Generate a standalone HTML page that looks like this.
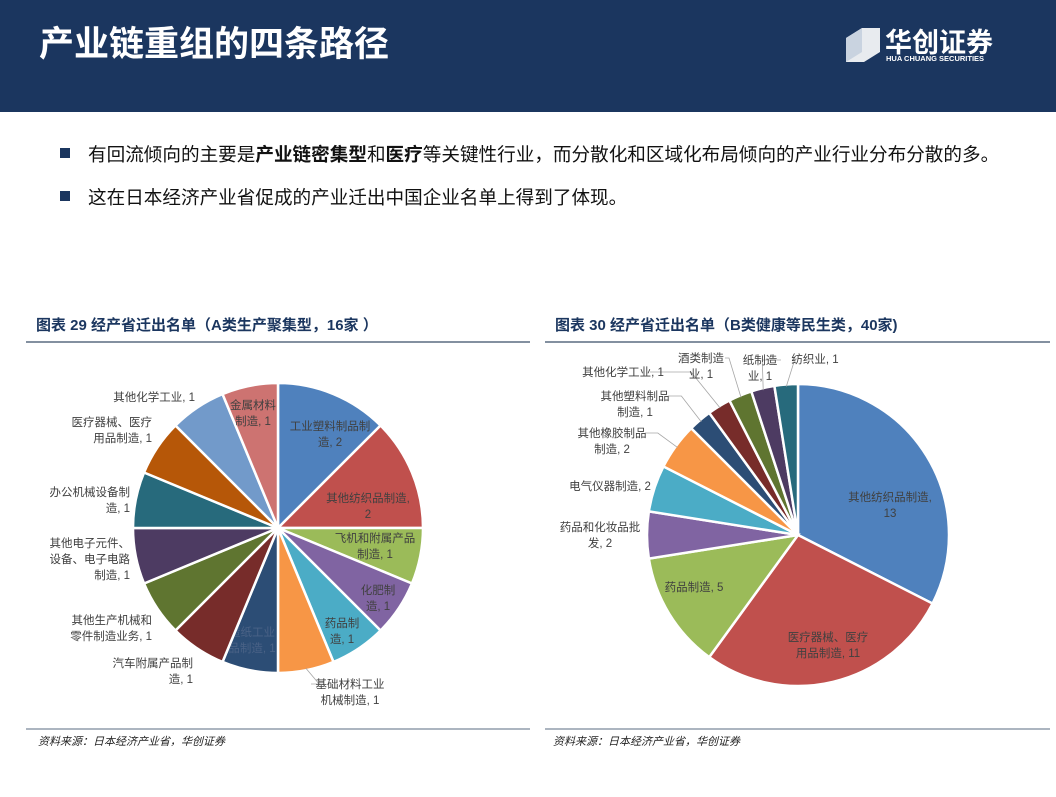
<!DOCTYPE html>
<html><head><meta charset="utf-8"><style>
body{margin:0;width:1056px;height:792px;overflow:hidden;background:#fff;font-family:"Liberation Sans","Noto Sans CJK SC",sans-serif}
svg text{font-family:"Liberation Sans","Noto Sans CJK SC",sans-serif}
</style></head><body>
<svg id="page" width="1056" height="792" viewBox="0 0 1056 792">
<rect x="0" y="0" width="1056" height="112" fill="#1B365F"/>
<text x="39" y="56" font-size="35" font-weight="bold" fill="#fff">产业链重组的四条路径</text>
<g>
<polygon points="846,38 862,28 880,28 880,52 864,62 846,62" fill="#fff" opacity="0.9"/>
<polygon points="846,38 862,28 862,52 846,62" fill="#c9d3e0"/>
<text x="885" y="52" font-size="27" font-weight="bold" fill="#fff">华创证券</text>
<text x="886" y="61" font-size="7.5" font-weight="bold" fill="#fff">HUA CHUANG SECURITIES</text>
</g>
<rect x="60" y="148" width="10" height="10" fill="#1B365F"/>
<text x="88" y="161" font-size="18.6" fill="#111">有回流倾向的主要是<tspan font-weight="bold">产业链密集型</tspan>和<tspan font-weight="bold">医疗</tspan>等关键性行业，而分散化和区域化布局倾向的产业行业分布分散的多。</text>
<rect x="60" y="191" width="10" height="10" fill="#1B365F"/>
<text x="88" y="204" font-size="18.6" fill="#111">这在日本经济产业省促成的产业迁出中国企业名单上得到了体现。</text>
<text x="36" y="330" font-size="15" font-weight="bold" fill="#1B365F">图表 29 经产省迁出名单（A类生产聚集型，16家 ）</text>
<line x1="26" y1="342" x2="530" y2="342" stroke="#5a6b80" stroke-width="1.5"/>
<text x="555" y="330" font-size="15" font-weight="bold" fill="#1B365F">图表 30 经产省迁出名单（B类健康等民生类，40家)</text>
<line x1="545" y1="342" x2="1050" y2="342" stroke="#5a6b80" stroke-width="1.5"/>
<line x1="26" y1="729" x2="530" y2="729" stroke="#5a6b80" stroke-width="1"/>
<line x1="545" y1="729" x2="1050" y2="729" stroke="#5a6b80" stroke-width="1"/>
<text x="38" y="745" font-size="11" font-style="italic" fill="#222">资料来源：日本经济产业省，华创证券</text>
<text x="553" y="745" font-size="11" font-style="italic" fill="#222">资料来源：日本经济产业省，华创证券</text>
<g id="pieA"></g>
<g id="pieB"></g>
</svg>
<script>
const catsA=["工业塑料制品制造","其他纺织品制造","飞机和附属产品制造","化肥制造","药品制造","基础材料工业机械制造","造纸工业品制造","汽车附属产品制造","其他生产机械和零件制造业务","其他电子元件、设备、电子电路制造","办公机械设备制造","医疗器械、医疗用品制造","其他化学工业","金属材料制造"];
const valsA=[2,2,1,1,1,1,1,1,1,1,1,1,1,1];
const catsB=["其他纺织品制造","医疗器械、医疗用品制造","药品制造","药品和化妆品批发","电气仪器制造","其他橡胶制品制造","其他塑料制品制造","其他化学工业","酒类制造业","纸制造业","纺织业"];
const valsB=[13,11,5,2,2,2,1,1,1,1,1];
const colors=["#4F81BD","#C0504D","#9BBB59","#8064A2","#4BACC6","#F79646","#2C4D75","#772C2A","#5F7530","#4D3B62","#276A7C","#B65708","#729ACA","#CD7371"];
// label layout (not data): [x, y of first line, anchor, chars per line, leader]
const layoutA=[[330,430,"middle",7,0],[368,502,"middle",8,0],[375,542,"middle",7,0],[378,594,"middle",3,0],[342,627,"middle",3,0],[350,688,"middle",6,1],[252,636,"middle",4,0],[193,667,"end",7,0],[152,624,"end",7,0],[130,547,"end",7,0],[130,496,"end",7,0],[152,426,"end",7,0],[195,401,"end",9,0],[253,409,"middle",4,0]];
const layoutB=[[890,501,"middle",8,0],[828,641,"middle",7,0],[694,591,"middle",8,0],[600,531,"middle",7,0],[610,490,"middle",9,0],[612,437,"middle",6,1],[635,400,"middle",6,1],[623,376,"middle",9,1],[701,362,"middle",4,1],[760,364,"middle",3,1],[815,363,"middle",6,1]];
const NS="http://www.w3.org/2000/svg";
function wrap(s,n){const out=[];for(let i=0;i<s.length;i+=n)out.push(s.slice(i,i+n));return out;}
function drawPie(gid,cats,vals,cx,cy,r,layout,prefix){
  const g=document.getElementById(gid);
  const total=vals.reduce((a,b)=>a+b,0);
  let a0=0;
  vals.forEach((v,i)=>{
    const a1=a0+v/total*2*Math.PI;
    const p=(a,rr)=>[cx+rr*Math.sin(a),cy-rr*Math.cos(a)];
    const [x0,y0]=p(a0,r),[x1,y1]=p(a1,r);
    const path=document.createElementNS(NS,"path");
    path.setAttribute("d",`M${cx},${cy}L${x0},${y0}A${r},${r} 0 ${a1-a0>Math.PI?1:0} 1 ${x1},${y1}Z`);
    path.setAttribute("fill",colors[i]);path.setAttribute("stroke","#fff");path.setAttribute("stroke-width","2.5");
    
    
    g.appendChild(path);
    const L=layout[i]||[cx,cy,"middle",7,0];
    const name=cats[i]+", "+v;
    let lines;
    if(L[3]>=name.length) lines=[name];
    else { lines=[name.slice(0,L[3]),name.slice(L[3]).trim()]; if(lines[1].length>L[3]+3) lines=wrap(name,L[3]); }
    if(L[4]){
      const am=(a0+a1)/2; const [ex,ey]=p(am,r-2);
      const ln=document.createElementNS(NS,"polyline");
      ln.setAttribute("points",`${ex},${ey} ${ex+(L[0]-ex)*0.3},${L[1]-4} ${L[0]+(ex<L[0]?-1:1)*(name.length*3)},${L[1]-4}`);
      ln.setAttribute("fill","none");ln.setAttribute("stroke","#a6a6a6");ln.setAttribute("stroke-width","0.8");
      
      
      g.appendChild(ln);
    }
    const t=document.createElementNS(NS,"text");
    t.setAttribute("font-size","11.5");
    t.setAttribute("fill", colors[i]==="#2C4D75" && prefix==="pie-a" ? "#4a6286" : "#404040");
    t.setAttribute("text-anchor",L[2]);
    
    
    lines.forEach((s,k)=>{const ts=document.createElementNS(NS,"tspan");ts.setAttribute("x",L[0]);ts.setAttribute("y",L[1]+k*16);ts.textContent=s;t.appendChild(ts);});
    g.appendChild(t);
    a0=a1;
  });
}
drawPie("pieA",catsA,valsA,278,528,145,layoutA,"pie-a");
drawPie("pieB",catsB,valsB,798,535,151,layoutB,"pie-b");
</script>
</body></html>
